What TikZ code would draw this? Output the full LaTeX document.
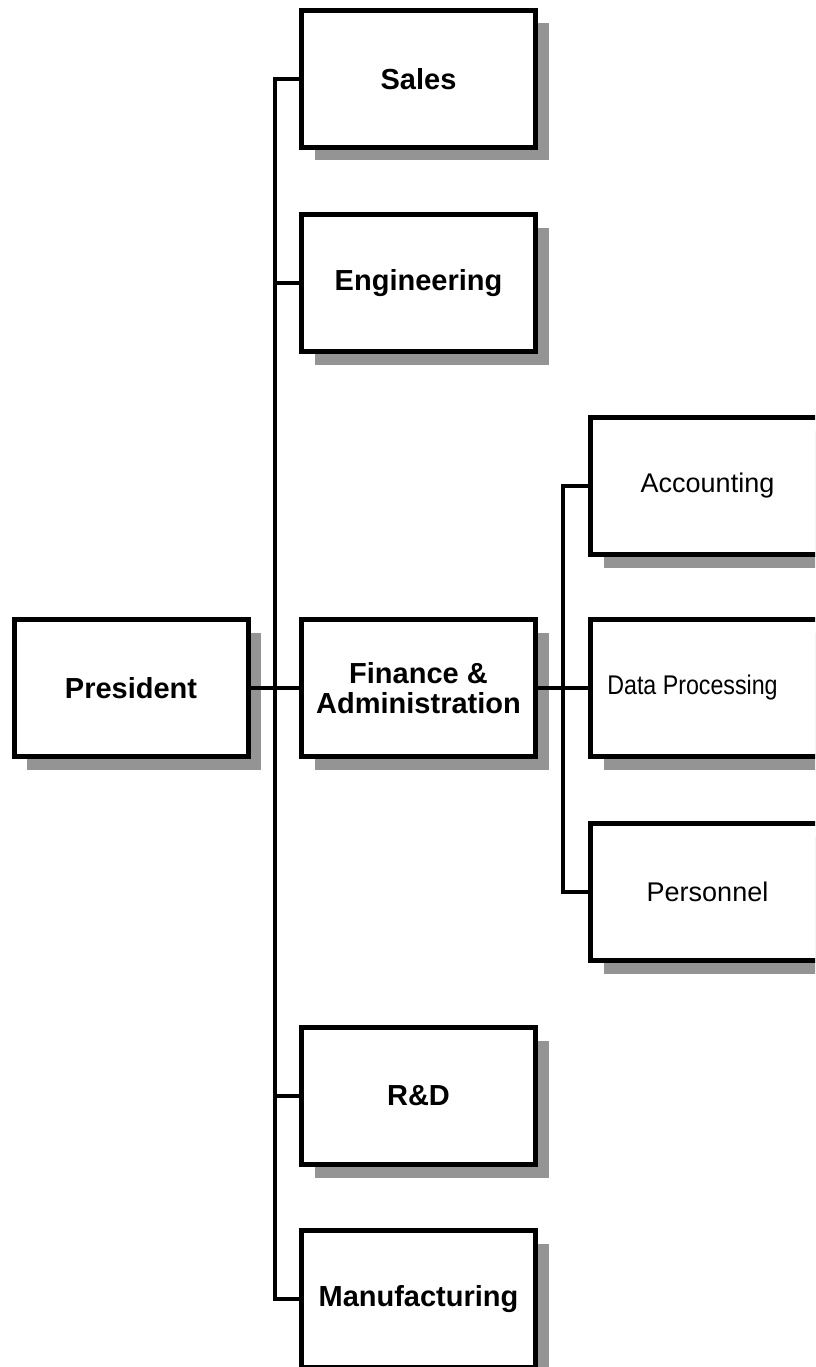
\documentclass[tikz,border=0pt]{standalone}
\usepackage{fontspec}
\setmainfont{Liberation Sans}
\usetikzlibrary{shadows}
\begin{document}
\begin{tikzpicture}[x=1pt,y=-1pt,
  unit/.style={draw=black, line width=5pt, fill=white, rectangle,
    minimum width=234pt, minimum height=137pt, inner sep=0pt, outer sep=0pt,
    align=center,
    general shadow={fill=black!42, shadow xshift=13pt, shadow yshift=-13pt}},
  dept/.style={unit, font=\fontsize{29}{30}\selectfont\bfseries},
  subunit/.style={unit, font=\fontsize{27}{30}\selectfont},
  link/.style={line width=4pt, line join=miter, line cap=rect}]
  \clip (0,0) rectangle (815,1367);
  \useasboundingbox (0,0) rectangle (815,1367);

  % trunk positions
  \coordinate (t1) at (275,0);
  \coordinate (t2) at (563,0);

  % top level
  \node[dept] (pres) at (131,688) {President};
  \node[dept] (sales) at (418.5,79) {Sales};
  \node[dept] (eng) at (418.5,283) {Engineering};
  \node[dept] (fin) at (418.5,688) {Finance \&\\Administration};
  \node[dept] (rd) at (418.5,1096) {R\&D};
  \node[dept] (manu) at (418.5,1299) {Manufacturing};

  % finance sub-units
  \node[subunit] (acc) at (707.5,486) {Accounting};
  \node[subunit] (dp) at (707.5,688) {\scalebox{0.86}[1]{Data Processing}\hspace*{30pt}};
  \node[subunit] (pers) at (707.5,892) {Personnel};

  % connectors
  \draw[link] (sales.west) -- (sales.west -| t1) -- (manu.west -| t1) -- (manu.west);
  \draw[link] (eng.west) -- (eng.west -| t1);
  \draw[link] (rd.west) -- (rd.west -| t1);
  \draw[link] (pres.east) -- (fin.west);
  \draw[link] (acc.west) -- (acc.west -| t2) -- (pers.west -| t2) -- (pers.west);
  \draw[link] (fin.east) -- (dp.west);
\end{tikzpicture}
\end{document}
